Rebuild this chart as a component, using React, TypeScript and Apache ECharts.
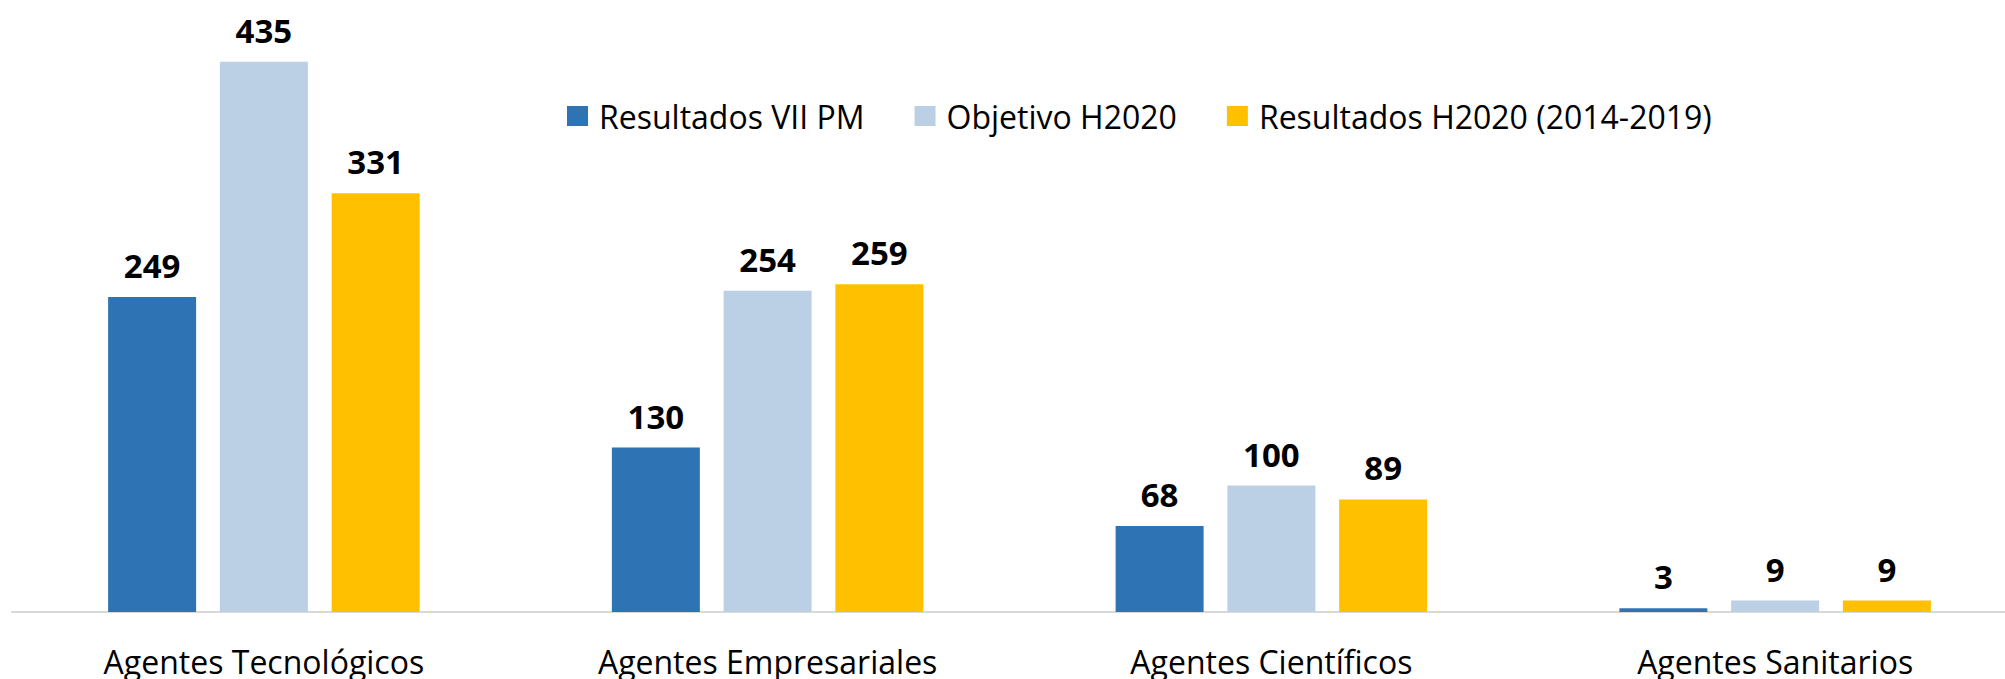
import React, { useEffect, useRef } from "react";
import * as echarts from "echarts";

const categories = [
  "Agentes Tecnológicos",
  "Agentes Empresariales",
  "Agentes Científicos",
  "Agentes Sanitarios",
];
const seriesNames = [
  "Resultados VII PM",
  "Objetivo H2020",
  "Resultados H2020 (2014-2019)",
];
const resultadosVIIPM = [249, 130, 68, 3];
const objetivoH2020 = [435, 254, 100, 9];
const resultadosH2020 = [331, 259, 89, 9];
const colors = ["#2E74B5", "#BBD0E4", "#FFC000"];

const FONT = "'Open Sans', 'Noto Sans', sans-serif";

export default function App() {
  const ref = useRef<HTMLDivElement>(null);
  useEffect(() => {
    if (!ref.current) return;
    const chart = echarts.init(ref.current, undefined, { renderer: "svg" });
    const values = [resultadosVIIPM, objetivoH2020, resultadosH2020];
    chart.setOption({
      animation: false,
      backgroundColor: "#ffffff",
      textStyle: { fontFamily: FONT },
      legend: {
        show: true,
        left: 562,
        top: 95,
        itemWidth: 21,
        itemHeight: 20,
        itemGap: 50,
        icon: "rect",
        textStyle: {
          fontFamily: FONT,
          fontSize: 32,
          color: "#000000",
          padding: [0, 0, 0, 6],
        },
        data: seriesNames,
      },
      grid: {
        left: 12,
        right: 0,
        top: 42.75,
        bottom: 67,
        containLabel: false,
        outerBoundsMode: "none",
      },
      xAxis: {
        type: "category",
        data: categories,
        axisTick: { show: false },
        axisLine: { show: true, lineStyle: { color: "#D9D9D9", width: 2 } },
        axisLabel: {
          fontFamily: FONT,
          fontSize: 32,
          color: "#000000",
          margin: 33,
        },
      },
      yAxis: {
        type: "value",
        min: 0,
        max: 450,
        show: false,
        splitLine: { show: false },
      },
      series: seriesNames.map((name, i) => ({
        name,
        type: "bar",
        data: values[i],
        barWidth: 88,
        barGap: "27%",
        itemStyle: { color: colors[i] },
        label: {
          show: true,
          position: "top",
          distance: 15,
          fontFamily: FONT,
          fontSize: 33,
          fontWeight: "bold",
          color: "#000000",
        },
      })),
    });
    return () => chart.dispose();
  }, []);
  return (
    <div
      style={{
        position: "absolute",
        left: 0,
        top: 0,
        width: 2005,
        height: 679,
        overflow: "hidden",
      }}
    >
      <div ref={ref} style={{ width: 2027, height: 679 }} />
    </div>
  );
}
